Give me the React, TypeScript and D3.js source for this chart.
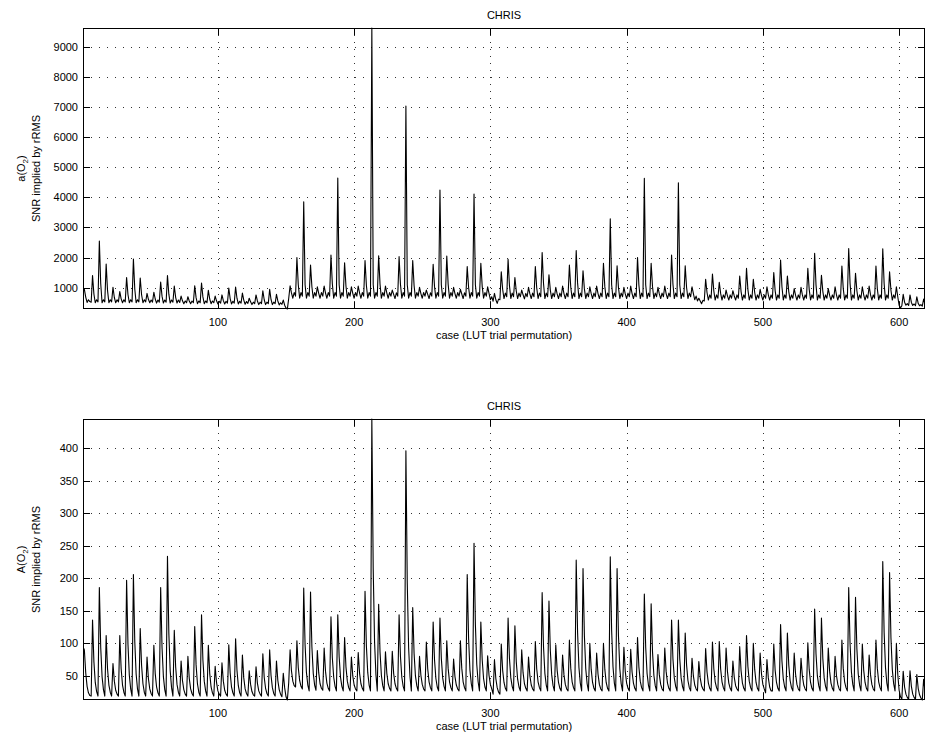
import React from "react";
import * as d3 from "d3";

const titleText = "CHRIS";
const xLabelText = "case (LUT trial permutation)";
const yLabelSecond = "SNR implied by rRMS";
const firstCase = 1;
const xTicks = [100, 200, 300, 400, 500, 600];
const topYTicks = [1000, 2000, 3000, 4000, 5000, 6000, 7000, 8000, 9000];
const bottomYTicks = [50, 100, 150, 200, 250, 300, 350, 400];

// a(O2): SNR per case (cases 1..619)
const topValues = [
  960, 945, 690, 510, 600, 540, 520,
  1400, 790, 500, 600, 530,
  2550, 1140, 500, 600, 530,
  1785, 910, 500, 600, 530,
  1010, 675, 500, 600, 530,
  870, 630, 500, 600, 530,
  1340, 775, 500, 600, 530,
  1950, 955, 500, 600, 530,
  1320, 765, 500, 600, 530,
  810, 615, 500, 590, 520,
  850, 625, 490, 590, 520,
  1190, 720, 490, 590, 520,
  1400, 785, 490, 590, 520,
  1055, 680, 490, 590, 510,
  720, 565, 470, 560, 500,
  700, 560, 470, 560, 500,
  1065, 670, 470, 560, 500,
  1155, 695, 470, 560, 500,
  910, 625, 470, 560, 500,
  720, 565, 460, 550, 490,
  760, 570, 460, 550, 490,
  990, 640, 460, 550, 490,
  1020, 650, 460, 550, 490,
  820, 590, 450, 540, 480,
  650, 530, 440, 520, 470,
  760, 560, 440, 520, 470,
  900, 600, 440, 520, 470,
  945, 610, 440, 520, 470,
  780, 560, 430, 500, 450,
  590, 420, 330, 293, 650,
  1065, 825, 650, 840, 720,
  2000, 1105, 650, 840, 720,
  3850, 1100, 650, 840, 720,
  1750, 1030, 650, 840, 720,
  1030, 815, 650, 840, 720,
  1055, 820, 650, 840, 720,
  2085, 1130, 650, 840, 720,
  4640, 1100, 650, 840, 720,
  1830, 1055, 650, 840, 720,
  1030, 815, 650, 840, 720,
  1055, 820, 650, 840, 720,
  1900, 1075, 650, 840, 720,
  9620, 1100, 650, 840, 720,
  2060, 1120, 650, 840, 720,
  1055, 820, 650, 840, 720,
  920, 780, 640, 830, 720,
  2030, 1115, 650, 840, 720,
  7030, 1100, 650, 840, 720,
  1900, 1075, 650, 840, 720,
  1010, 805, 650, 840, 720,
  920, 780, 640, 830, 720,
  1775, 1035, 650, 840, 720,
  4240, 1100, 650, 840, 720,
  2050, 1120, 650, 840, 720,
  1010, 805, 650, 840, 720,
  945, 790, 640, 830, 720,
  1700, 1015, 650, 840, 720,
  4110, 1100, 650, 840, 720,
  1810, 1045, 650, 840, 720,
  1030, 815, 600, 700, 550,
  810, 600, 480, 620, 600,
  1530, 950, 640, 820, 700,
  1940, 1070, 640, 820, 700,
  1340, 890, 640, 820, 700,
  920, 765, 630, 810, 700,
  1010, 795, 640, 820, 700,
  1700, 1000, 640, 820, 700,
  2170, 1140, 640, 820, 700,
  1430, 920, 640, 820, 700,
  1010, 795, 640, 820, 700,
  1055, 805, 640, 820, 700,
  1750, 1015, 640, 820, 700,
  2230, 1160, 640, 820, 700,
  1565, 960, 640, 820, 700,
  1030, 800, 640, 820, 700,
  1055, 805, 640, 820, 700,
  1810, 1035, 640, 820, 700,
  3290, 1100, 640, 820, 700,
  1730, 1005, 640, 820, 700,
  1010, 795, 640, 820, 700,
  1055, 805, 640, 820, 700,
  2000, 1090, 640, 820, 700,
  4630, 1100, 640, 820, 700,
  1810, 1035, 640, 820, 700,
  1010, 795, 640, 820, 700,
  1055, 805, 640, 820, 700,
  2085, 1115, 640, 820, 700,
  4480, 1100, 640, 820, 700,
  1730, 1005, 640, 820, 700,
  1030, 800, 600, 720, 560,
  650, 560, 470, 580, 560,
  1280, 840, 590, 760, 650,
  1455, 890, 590, 760, 650,
  1180, 810, 590, 760, 650,
  920, 730, 590, 760, 650,
  900, 725, 590, 760, 650,
  1390, 870, 590, 760, 650,
  1640, 945, 590, 760, 650,
  1280, 840, 590, 760, 650,
  945, 740, 590, 760, 650,
  1030, 765, 590, 760, 650,
  1500, 905, 590, 760, 650,
  1920, 1030, 590, 760, 650,
  1390, 870, 590, 760, 650,
  970, 745, 590, 760, 650,
  1010, 760, 590, 760, 650,
  1640, 945, 590, 760, 650,
  2140, 1095, 590, 760, 650,
  1410, 880, 590, 760, 650,
  970, 745, 590, 760, 650,
  1030, 765, 590, 760, 650,
  1720, 970, 590, 760, 650,
  2300, 1145, 590, 760, 650,
  1475, 900, 590, 760, 650,
  1030, 765, 590, 760, 650,
  1055, 770, 590, 760, 650,
  1720, 970, 590, 760, 650,
  2290, 1140, 590, 760, 650,
  1530, 915, 590, 760, 650,
  1030, 700, 420, 330, 400,
  780, 520, 420, 470, 410,
  760, 510, 410, 460, 400,
  700, 480, 400, 440, 390,
  620, 450,
];

// A(O2): SNR per case (cases 1..619)
const bottomValues = [
  95, 90, 55, 34, 24, 20, 19,
  136, 72, 40, 26, 19,
  186, 94, 49, 29, 19,
  112, 61, 36, 25, 19,
  69, 42, 28, 22, 19,
  112, 61, 36, 25, 19,
  197, 99, 51, 30, 19,
  206, 103, 53, 30, 19,
  123, 66, 38, 25, 19,
  79, 46, 30, 23, 19,
  97, 54, 33, 24, 19,
  186, 94, 49, 29, 19,
  234, 116, 58, 32, 19,
  120, 64, 37, 25, 19,
  73, 43, 29, 22, 19,
  80, 46, 30, 23, 19,
  126, 67, 38, 25, 19,
  144, 75, 42, 27, 19,
  97, 54, 33, 24, 19,
  65, 40, 27, 22, 19,
  70, 42, 28, 22, 19,
  98, 55, 33, 24, 19,
  107, 59, 35, 24, 19,
  82, 47, 30, 23, 19,
  58, 37, 26, 21, 19,
  64, 39, 27, 22, 19,
  84, 48, 31, 23, 19,
  90, 51, 32, 23, 19,
  73, 43, 29, 22, 18,
  54, 32, 18, 13, 40,
  90, 58, 42, 35, 33,
  104, 63, 43, 34, 30,
  185, 98, 55, 36, 27,
  179, 95, 54, 36, 28,
  89, 55, 38, 31, 28,
  93, 57, 39, 31, 27,
  141, 78, 48, 34, 27,
  144, 80, 48, 34, 27,
  109, 64, 42, 32, 27,
  79, 50, 36, 30, 27,
  86, 54, 38, 31, 27,
  180, 96, 55, 36, 27,
  445, 215, 102, 52, 27,
  160, 87, 51, 35, 27,
  87, 54, 38, 31, 27,
  88, 54, 38, 31, 27,
  144, 80, 48, 34, 27,
  396, 193, 93, 49, 27,
  155, 85, 50, 35, 27,
  80, 51, 37, 30, 27,
  102, 61, 41, 32, 27,
  133, 75, 46, 33, 27,
  139, 77, 47, 34, 27,
  104, 62, 41, 32, 27,
  76, 49, 36, 30, 27,
  104, 62, 41, 32, 27,
  206, 108, 59, 38, 27,
  254, 129, 68, 41, 27,
  133, 75, 46, 33, 27,
  81, 51, 37, 30, 22,
  75, 46, 32, 25, 22,
  99, 59, 40, 31, 27,
  139, 77, 47, 34, 27,
  127, 72, 45, 33, 27,
  90, 55, 38, 31, 27,
  79, 50, 36, 30, 27,
  103, 61, 41, 32, 27,
  178, 95, 54, 36, 27,
  165, 89, 52, 35, 27,
  98, 59, 40, 31, 27,
  82, 52, 37, 30, 27,
  105, 62, 41, 32, 27,
  228, 117, 63, 39, 27,
  215, 112, 61, 38, 27,
  100, 60, 40, 31, 27,
  85, 53, 37, 30, 27,
  100, 60, 40, 31, 27,
  233, 120, 64, 39, 27,
  215, 112, 61, 38, 27,
  94, 57, 39, 31, 27,
  91, 56, 39, 31, 27,
  109, 64, 42, 32, 27,
  176, 94, 54, 36, 27,
  161, 87, 51, 35, 27,
  83, 52, 37, 30, 27,
  93, 57, 39, 31, 27,
  136, 76, 47, 34, 27,
  136, 76, 47, 34, 27,
  116, 67, 43, 32, 27,
  77, 50, 36, 30, 27,
  72, 47, 35, 30, 27,
  92, 56, 39, 31, 27,
  102, 61, 41, 32, 27,
  103, 61, 41, 32, 27,
  93, 57, 39, 31, 27,
  73, 48, 35, 30, 27,
  95, 58, 39, 31, 27,
  112, 65, 42, 32, 27,
  100, 60, 40, 31, 27,
  85, 53, 37, 30, 24,
  75, 47, 33, 27, 27,
  99, 59, 40, 31, 27,
  129, 73, 45, 33, 27,
  116, 67, 43, 32, 27,
  85, 53, 37, 30, 27,
  77, 50, 36, 30, 27,
  101, 60, 40, 31, 27,
  153, 84, 50, 35, 27,
  139, 77, 47, 34, 27,
  93, 57, 39, 31, 27,
  80, 51, 37, 30, 27,
  105, 62, 41, 32, 27,
  186, 99, 56, 37, 27,
  171, 92, 53, 36, 27,
  99, 59, 40, 31, 27,
  82, 52, 37, 30, 27,
  105, 62, 41, 32, 27,
  226, 117, 63, 39, 27,
  209, 109, 60, 38, 27,
  100, 53, 28, 18, 14,
  57, 33, 22, 17, 14,
  58, 34, 22, 17, 14,
  52, 31, 21, 16, 13,
  45, 27,
];

const LEFT = 83;
const RIGHT = 925;
const FONT = "'Liberation Sans', Arial, Helvetica, sans-serif";

type PanelProps = {
  values: number[];
  yTicks: number[];
  top: number;
  bottom: number;
  symbol: string;
  id: string;
};

function Panel({ values, yTicks, top, bottom, symbol, id }: PanelProps) {
  const cases = values.map((_, i) => firstCase + i);
  const x = d3
    .scaleLinear()
    .domain([firstCase, firstCase + values.length - 1])
    .range([LEFT, RIGHT]);
  const ext = d3.extent(values) as [number, number];
  const y = d3.scaleLinear().domain(ext).range([bottom, top]);
  const line = d3
    .line<number>()
    .x((_, i) => x(cases[i]))
    .y((v) => y(v));
  const tickLen = 7;
  const midY = (top + bottom) / 2;
  const midX = (LEFT + RIGHT) / 2;
  const px = (v: number) => Math.round(v) + 0.5;

  return (
    <g>
      <defs>
        <clipPath id={id}>
          <rect x={LEFT} y={top - 1} width={RIGHT - LEFT} height={bottom - top + 2} />
        </clipPath>
      </defs>
      {yTicks.map((t) => (
        <line
          key={"gy" + t}
          x1={LEFT}
          x2={RIGHT}
          y1={px(y(t))}
          y2={px(y(t))}
          stroke="#333"
          strokeWidth={1}
          strokeDasharray="1 7"
          shapeRendering="crispEdges"
        />
      ))}
      {xTicks.map((t) => (
        <line
          key={"gx" + t}
          x1={px(x(t))}
          x2={px(x(t))}
          y1={top}
          y2={bottom}
          stroke="#333"
          strokeWidth={1}
          strokeDasharray="1 6"
          shapeRendering="crispEdges"
        />
      ))}
      <path
        d={line(values) || ""}
        fill="none"
        stroke="#000"
        strokeWidth={1.1}
        strokeLinejoin="round"
        clipPath={`url(#${id})`}
      />
      <rect
        x={LEFT + 0.5}
        y={top + 0.5}
        width={RIGHT - LEFT - 1}
        height={bottom - top - 1}
        fill="none"
        stroke="#000"
        strokeWidth={1}
        shapeRendering="crispEdges"
      />
      {xTicks.map((t) => (
        <g key={"tx" + t}>
          <line x1={px(x(t))} x2={px(x(t))} y1={bottom} y2={bottom - tickLen} stroke="#000" shapeRendering="crispEdges" />
          <line x1={px(x(t))} x2={px(x(t))} y1={top} y2={top + tickLen} stroke="#000" shapeRendering="crispEdges" />
          <text x={x(t)} y={bottom + 17} textAnchor="middle" fontFamily={FONT} fontSize={11} fill="#000">
            {t}
          </text>
        </g>
      ))}
      {yTicks.map((t) => (
        <g key={"ty" + t}>
          <line x1={LEFT} x2={LEFT + tickLen} y1={px(y(t))} y2={px(y(t))} stroke="#000" shapeRendering="crispEdges" />
          <line x1={RIGHT} x2={RIGHT - tickLen} y1={px(y(t))} y2={px(y(t))} stroke="#000" shapeRendering="crispEdges" />
          <text x={LEFT - 5} y={y(t) + 4} textAnchor="end" fontFamily={FONT} fontSize={11} fill="#000">
            {t}
          </text>
        </g>
      ))}
      <text x={midX} y={top - 9} textAnchor="middle" fontFamily={FONT} fontSize={11} fill="#000">
        {titleText}
      </text>
      <text x={midX} y={bottom + 30} textAnchor="middle" fontFamily={FONT} fontSize={11} fill="#000">
        {xLabelText}
      </text>
      <text
        transform={`translate(25,${midY}) rotate(-90)`}
        textAnchor="middle"
        fontFamily={FONT}
        fontSize={11}
        fill="#000"
      >
        {symbol + "(O"}
        <tspan fontSize={8} dy={3}>2</tspan>
        <tspan dy={-3}>)</tspan>
      </text>
      <text
        transform={`translate(40,${midY}) rotate(-90)`}
        textAnchor="middle"
        fontFamily={FONT}
        fontSize={11}
        fill="#000"
      >
        {yLabelSecond}
      </text>
    </g>
  );
}

export default function App() {
  return (
    <svg
      width={926}
      height={732}
      style={{ position: "absolute", left: 0, top: 0, background: "#fff" }}
    >
      <rect width={926} height={732} fill="#fff" />
      <Panel values={topValues} yTicks={topYTicks} top={28} bottom={309} symbol="a" id="clipTop" />
      <Panel values={bottomValues} yTicks={bottomYTicks} top={419} bottom={700} symbol="A" id="clipBottom" />
    </svg>
  );
}
